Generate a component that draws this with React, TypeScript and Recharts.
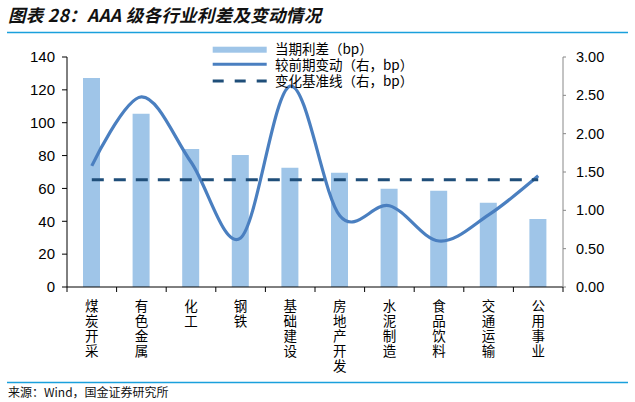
import React from 'react';
import { ComposedChart, Bar, Line, XAxis, YAxis } from 'recharts';

const categories = ['煤炭开采', '有色金属', '化工', '钢铁', '基础建设', '房地产开发', '水泥制造', '食品饮料', '交通运输', '公用事业'];
const spreadValues = [127.2, 105.5, 84.0, 80.3, 72.6, 69.6, 59.8, 58.6, 51.3, 41.4];
const changeValues = [1.58, 2.48, 1.63, 0.64, 2.62, 0.93, 1.06, 0.60, 0.94, 1.45];
const baselineValues = [1.4, 1.4, 1.4, 1.4, 1.4, 1.4, 1.4, 1.4, 1.4, 1.4];
const leftTicks = [0, 20, 40, 60, 80, 100, 120, 140];
const rightTicks = [0, 0.5, 1, 1.5, 2, 2.5, 3];
const legendLabels = ['当期利差（bp）', '较前期变动（右，bp）', '变化基准线（右，bp）'];
const titleText = '图表 28：AAA 级各行业利差及变动情况';
const sourceText = '来源：Wind，国金证券研究所';

const data = categories.map((name, i) => ({
  name,
  spread: spreadValues[i],
  change: changeValues[i],
  baseline: baselineValues[i],
}));

const BAR_COLOR = '#9fc5e8';
const LINE_COLOR = '#4a7fc0';
const DASH_COLOR = '#1f4e79';
const CJK = '"Noto Sans CJK SC", "Noto Sans", sans-serif';
const NUM = '"Liberation Sans", Arial, sans-serif';

// Catmull-Rom style smoothing (similar to Excel's smoothed lines)
function smoothCurve(context: any) {
  const k = 1 / 6;
  let x0 = NaN, x1 = NaN, x2 = NaN, y0 = NaN, y1 = NaN, y2 = NaN;
  let pt = 0;
  let line = NaN as any;
  const bez = (x: number, y: number) => {
    context.bezierCurveTo(
      x1 + k * (x2 - x0),
      y1 + k * (y2 - y0),
      x2 + k * (x1 - x),
      y2 + k * (y1 - y),
      x2,
      y2
    );
  };
  return {
    areaStart() { line = 0; },
    areaEnd() { line = NaN; },
    lineStart() { x0 = x1 = x2 = y0 = y1 = y2 = NaN; pt = 0; },
    lineEnd() {
      switch (pt) {
        case 2: context.lineTo(x2, y2); break;
        case 3: bez(x1, y1); break;
      }
      if (line || (line !== 0 && pt === 1)) context.closePath();
      line = 1 - line;
    },
    point(x: number, y: number) {
      x = +x; y = +y;
      switch (pt) {
        case 0: pt = 1; line ? context.lineTo(x, y) : context.moveTo(x, y); break;
        case 1: pt = 2; x1 = x; y1 = y; break;
        case 2: pt = 3;
        // falls through
        default: bez(x, y); break;
      }
      x0 = x1; x1 = x2; x2 = x;
      y0 = y1; y1 = y2; y2 = y;
    },
  };
}

const BW = 49.6;

const XTick = (props: any) => {
  const { x, y, payload, index } = props;
  const chars = String(payload.value).split('');
  return (
    <g>
      <line x1={x - BW / 2} x2={x - BW / 2} y1={y} y2={y + 5} stroke="#000" strokeWidth={1} />
      {index === categories.length - 1 && (
        <line x1={x + BW / 2} x2={x + BW / 2} y1={y} y2={y + 5} stroke="#000" strokeWidth={1} />
      )}
      {chars.map((c, i) => (
        <text key={i} x={x} y={y + 23.5 + i * 15.2} textAnchor="middle" fontSize={13.5} fontFamily={CJK} fill="#000">{c}</text>
      ))}
    </g>
  );
};

export default function App() {
  return (
    <div style={{ position: 'absolute', left: 0, top: 0, width: 635, height: 402, background: '#fff', overflow: 'hidden' }}>
      <svg width={635} height={402} style={{ position: 'absolute', left: 0, top: 0 }}>
        <text x={8} y={21.5} fontSize={17.5} letterSpacing={0.3} fontWeight="bold" fontStyle="italic" fontFamily={CJK} fill="#111">{titleText}</text>
        <line x1={7} x2={628} y1={32.5} y2={32.5} stroke="#1aa0dc" strokeWidth={1.5} />
        <line x1={7} x2={628} y1={382.5} y2={382.5} stroke="#1aa0dc" strokeWidth={1.5} />
        <text x={8} y={396.5} fontSize={12} fontFamily={CJK} fill="#111">{sourceText}</text>
      </svg>
      <div style={{ position: 'absolute', left: 0, top: 0 }}>
        <ComposedChart width={635} height={402} data={data} margin={{ top: 57, right: 12, bottom: 20, left: 0 }}>
          <XAxis
            dataKey="name"
            interval={0}
            height={95}
            tickLine={false}
            tickSize={0}
            tickMargin={0}
            axisLine={{ stroke: '#000', strokeWidth: 1 }}
            tick={<XTick />}
          />
          <YAxis
            yAxisId="left"
            orientation="left"
            width={67}
            domain={[0, 140]}
            ticks={leftTicks}
            interval={0}
            tickSize={5}
            tickMargin={7}
            axisLine={{ stroke: '#000', strokeWidth: 1 }}
            tickLine={{ stroke: '#000', strokeWidth: 1 }}
            tick={{ fontSize: 15, fill: '#000', fontFamily: NUM }}
          />
          <YAxis
            yAxisId="right"
            orientation="right"
            width={60}
            domain={[0, 3]}
            ticks={rightTicks}
            interval={0}
            tickSize={3}
            tickMargin={10}
            tickFormatter={(v: number) => v.toFixed(2)}
            axisLine={{ stroke: '#888', strokeWidth: 1 }}
            tickLine={{ stroke: '#888', strokeWidth: 1 }}
            tick={{ fontSize: 14.5, fill: '#000', fontFamily: NUM }}
          />
          <Bar yAxisId="left" dataKey="spread" fill={BAR_COLOR} barSize={17} isAnimationActive={false} />
          <Line
            yAxisId="right"
            dataKey="change"
            type={smoothCurve as any}
            stroke={LINE_COLOR}
            strokeWidth={3.2}
            dot={false}
            activeDot={false}
            isAnimationActive={false}
          />
          <Line
            yAxisId="right"
            dataKey="baseline"
            type="linear"
            stroke={DASH_COLOR}
            strokeWidth={3}
            strokeDasharray="12 10"
            dot={false}
            activeDot={false}
            isAnimationActive={false}
          />
        </ComposedChart>
      </div>
      <svg width={300} height={70} style={{ position: 'absolute', left: 200, top: 30 }}>
        <rect x={12.7} y={16.7} width={54} height={6} fill={BAR_COLOR} />
        <line x1={12.7} x2={66.7} y1={34.3} y2={34.3} stroke={LINE_COLOR} strokeWidth={3} />
        <line x1={12.7} x2={66.7} y1={51} y2={51} stroke={DASH_COLOR} strokeWidth={3} strokeDasharray="11 11" />
        {legendLabels.map((t, i) => (
          <text key={i} x={75} y={24.3 + i * 15.8} fontSize={13.5} fontFamily={CJK} fill="#000">{t}</text>
        ))}
      </svg>
    </div>
  );
}
